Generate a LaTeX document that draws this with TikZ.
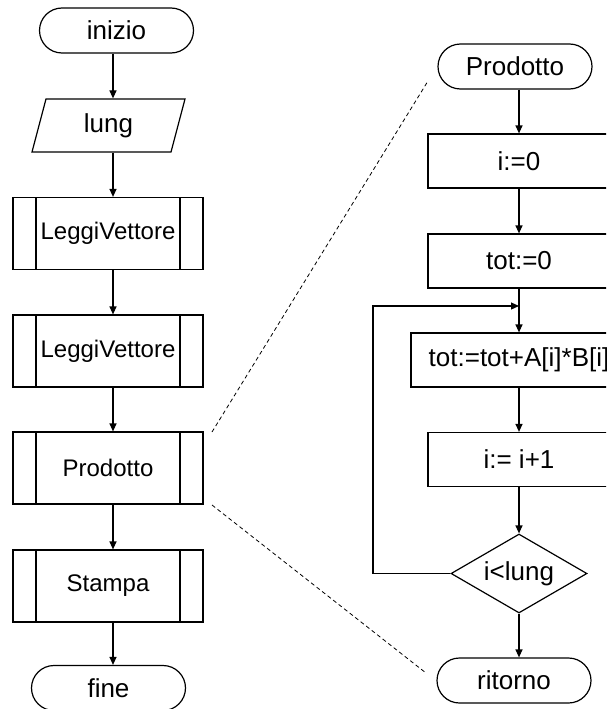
\documentclass[tikz,border=0pt]{standalone}
\usepackage{fontspec}
\setmainfont{Liberation Sans}
\usetikzlibrary{shapes.geometric,shapes.misc,arrows.meta}

\begin{document}
\begin{tikzpicture}[x=1pt,y=-1pt,
  line width=1.2pt,
  every node/.style={font=\fontsize{26}{30}\selectfont, inner sep=0pt},
  term/.style={draw, rounded rectangle, minimum width=154pt, minimum height=45pt},
  iobox/.style={draw, trapezium, trapezium left angle=60, trapezium right angle=120,
    trapezium stretches body, minimum width=153pt, minimum height=53pt},
  subbox/.style={draw, rectangle, minimum width=190pt, minimum height=72pt,
    font=\fontsize{24}{28}\selectfont,
    path picture={
      \draw ([xshift=23pt]path picture bounding box.north west) -- ([xshift=23pt]path picture bounding box.south west);
      \draw ([xshift=-23pt]path picture bounding box.north east) -- ([xshift=-23pt]path picture bounding box.south east);
    }},
  procbox/.style={draw, rectangle, minimum height=54pt},
  test/.style={draw, diamond, aspect=1.7, minimum width=136pt, minimum height=79pt},
  arr/.style={-{Triangle[length=8pt,width=7pt]}},
  link/.style={line width=0.8pt, dash pattern=on 4pt off 3pt}]

\useasboundingbox (0,0) rectangle (606,709);
\clip (0,0) rectangle (606,709);

% main program
\node[term]  (inizio) at (116.5,30.5) {inizio};
\node[iobox] (lung)   at (108.5,125.5) {lung};
\node[subbox] (lv1)   at (108,233.5) {LeggiVettore};
\node[subbox] (lv2)   at (108,351) {LeggiVettore};
\node[subbox] (prod)  at (108,468) {Prodotto};
\node[subbox] (stampa) at (108,586) {Stampa};
\node[term]  (fine)   at (108.5,688) {fine};

\coordinate (lx) at (113,0);
\draw[arr] (inizio.south -| lx) -- (lung.north -| lx);
\draw[arr] (lung.south -| lx) -- (lv1.north -| lx);
\draw[arr] (lv1.south -| lx) -- (lv2.north -| lx);
\draw[arr] (lv2.south -| lx) -- (prod.north -| lx);
\draw[arr] (prod.south -| lx) -- (stampa.north -| lx);
\draw[arr] (stampa.south -| lx) -- (fine.north -| lx);

% subroutine Prodotto
\node[term]  (pstart) at (515,66.5) {Prodotto};
\node[procbox, minimum width=182pt] (i0)   at (519,161) {i:=0};
\node[procbox, minimum width=182pt] (tot0) at (519,261) {tot:=0};
\node[procbox, minimum width=216pt] (acc)  at (519,360) {tot:=tot+A[i]*B[i]};
\node[procbox, minimum width=182pt] (inc)  at (519,459.5) {i:= i+1};
\node[test]  (cond)   at (519,573.5) {i<lung};
\node[term]  (ret)    at (514,680.5) {ritorno};

\coordinate (rx) at (519,0);
\draw[arr] (pstart.south -| rx) -- (i0.north);
\draw[arr] (i0.south) -- (tot0.north);
\draw[arr] (tot0.south) -- (acc.north);
\draw[arr] (acc.south) -- (inc.north);
\draw[arr] (inc.south) -- (cond.north);
\draw[arr] (cond.south) -- (ret.north -| rx);

% loop back
\coordinate (loopc) at (373,306);
\coordinate (join) at (519,306);
\draw[arr] (cond.west) -| (loopc) -- (join);

% expansion lines
\coordinate (z1) at (212,432);
\coordinate (z2) at (428,81);
\coordinate (z3) at (212,505);
\coordinate (z4) at (426,673);
\draw[link] (z1) -- (z2);
\draw[link] (z3) -- (z4);
\end{tikzpicture}
\end{document}
